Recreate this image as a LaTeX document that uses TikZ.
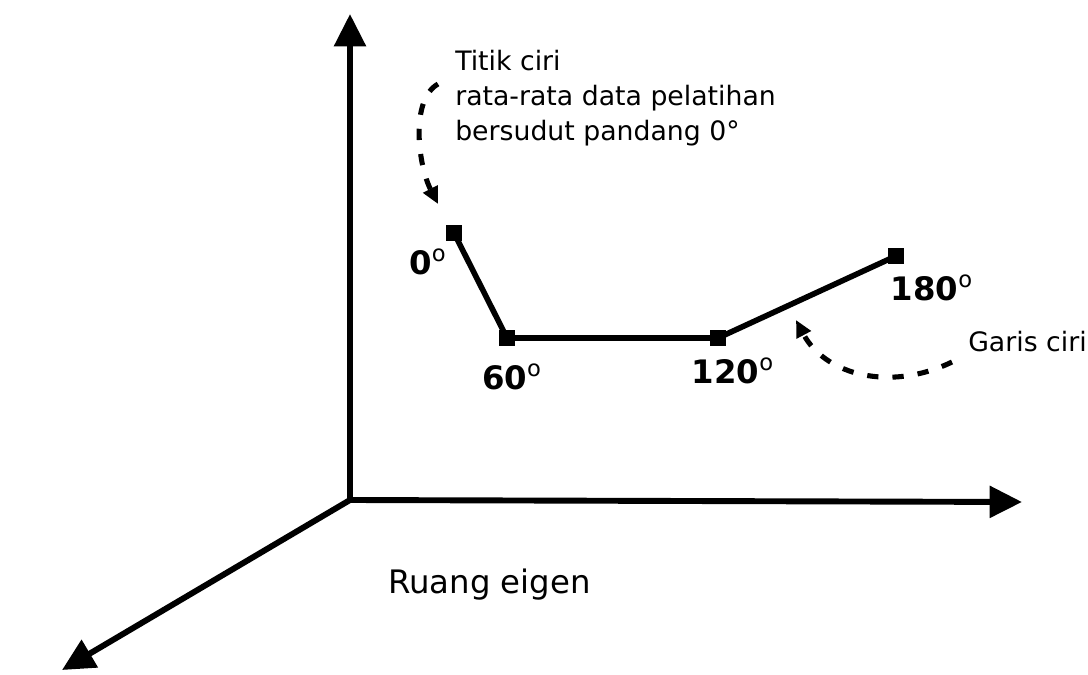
\documentclass[tikz,border=0pt]{standalone}
\usepackage{fontspec}
\setmainfont{DejaVu Sans}
\usetikzlibrary{arrows.meta,positioning}
\newcommand{\degsup}{\textsuperscript{\normalfont o}}

\begin{document}
\begin{tikzpicture}[
  x=0.025cm, y=-0.025cm,
  every node/.style={font=\fontsize{19}{25}\selectfont},
  axis/.style={line width=4.2pt,-{Triangle[length=23pt,width=22pt]}},
  feature/.style={line width=4pt},
  pt/.style={fill=black,minimum size=0.4cm,inner sep=0pt},
  deglabel/.style={font=\fontsize{23}{26}\selectfont\bfseries,inner sep=0pt},
  dasharrow/.style={line width=3.6pt,dash pattern=on 8pt off 10pt,-{Triangle[length=12pt,width=11pt]}}
]
  \useasboundingbox (0,0) rectangle (1088,675);

  % Axes of the eigenspace.
  \coordinate (origin) at (350,500);
  \coordinate (ytip) at (350,14);
  \coordinate (xtip) at (1022,502);
  \coordinate (ztip) at (62,670);
  \draw[axis] (origin) -- (ytip);
  \draw[axis] (origin) -- (xtip);
  \draw[axis] (origin) -- (ztip);

  % Feature points and feature line.
  \node[pt] (p0) at (454,233) {};
  \node[pt] (p60) at (507,338) {};
  \node[pt] (p120) at (718,338) {};
  \node[pt] (p180) at (896,256) {};
  \draw[feature] (p0.center) -- (p60.center) -- (p120.center) -- (p180.center);

  \node[deglabel] (l0) at (428,262) {0\degsup};
  \node[deglabel] (l60) at (512,377) {60\degsup};
  \node[deglabel] (l120) at (733,371) {120\degsup};
  \node[deglabel] (l180) at (932,288) {180\degsup};

  % Annotations.
  \node[anchor=north west,align=left,inner sep=0pt] (note) at (455,50)
    {Titik ciri\\rata-rata data pelatihan\\bersudut pandang 0°};
  \node[anchor=west,inner sep=0pt] (garis) at (968,342) {Garis ciri};
  \node[anchor=west,inner sep=0pt,font=\fontsize{23}{26}\selectfont] (ruang) at (388,585) {Ruang eigen};

  \coordinate (a1s) at (438,84);
  \coordinate (a1e) at (438,204);
  \draw[dasharrow] (a1s) .. controls (410,100) and (418,165) .. (a1e);
  \coordinate (a2s) at (952,362);
  \coordinate (a2e) at (796,320);
  \draw[dasharrow] (a2s) .. controls (890,392) and (825,375) .. (a2e);
\end{tikzpicture}
\end{document}
